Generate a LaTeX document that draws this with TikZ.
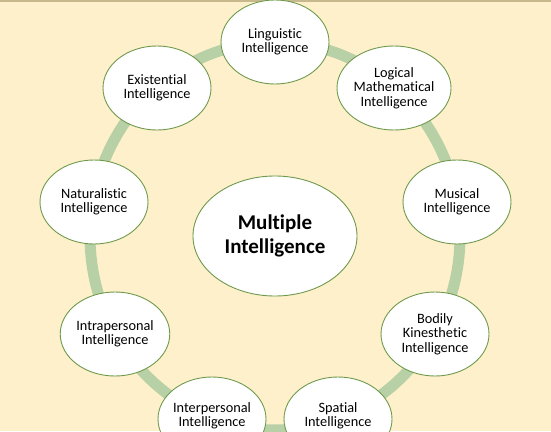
\documentclass[tikz,border=0pt]{standalone}
\usepackage{fontspec}
\setmainfont[Ligatures={NoCommon}]{Carlito}
\usetikzlibrary{shapes.geometric}
\definecolor{bgcream}{HTML}{FEF0CB}
\definecolor{topline}{HTML}{C8B88E}
\definecolor{ringgreen}{HTML}{B7D0A6}
\definecolor{nodeedge}{HTML}{6F9A4C}
\tikzset{
  outer/.style={ellipse, draw=nodeedge, line width=0.9pt, fill=white,
    minimum width=108pt, minimum height=84pt, inner sep=0pt, align=center,
    font=\fontsize{14.3}{14.5}\selectfont, text=black},
  plaintext/.style={inner sep=0pt, align=center,
    font=\fontsize{14.3}{14.5}\selectfont, text=black},
  hub/.style={ellipse, draw=nodeedge, line width=0.9pt, fill=white,
    minimum width=164pt, minimum height=120pt, inner sep=0pt, align=center,
    font=\fontsize{21}{24}\selectfont\bfseries, text=black},
  ring/.style={draw=ringgreen, line width=11pt}
}
\begin{document}
\begin{tikzpicture}[x=1pt,y=-1pt]
\useasboundingbox (0,0) rectangle (551,431);
\fill[bgcream] (0,0) rectangle (551,431);
\draw[topline, line width=1.5pt] (0,0.75) -- (551,0.75);
\draw[ring] (275,236) ellipse [x radius=185pt, y radius=194pt];
\node[hub] (mi) at (275,236) {Multiple\\Intelligence};
\node[outer] (ling) at (275,42) {Linguistic\\Intelligence};
\node[outer] (logi) at (394,88) {Logical\\Mathematical\\Intelligence};
\node[outer] (musi) at (457,202) {Musical\\Intelligence};
\node[outer] (bodi) at (435,334) {Bodily\\Kinesthetic\\Intelligence};
\node[outer] (spat) at (338,419) {};
\node[plaintext] (spattext) at (338,416) {Spatial\\Intelligence};
\node[outer] (inter) at (212,419) {};
\node[plaintext] (intertext) at (212,416) {Interpersonal\\Intelligence};
\node[outer] (intra) at (115,334) {Intrapersonal\\Intelligence};
\node[outer] (natu) at (94,202) {Naturalistic\\Intelligence};
\node[outer] (exis) at (157,88) {Existential\\Intelligence};
\end{tikzpicture}
\end{document}
